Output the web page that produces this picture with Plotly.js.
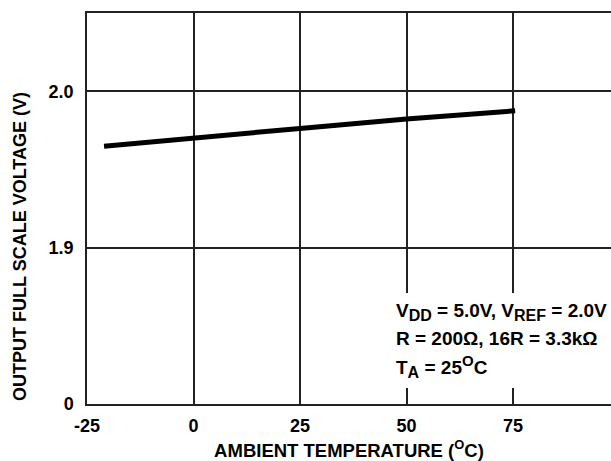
<!DOCTYPE html>
<html>
<head>
<meta charset="utf-8">
<script src="https://cdn.plot.ly/plotly-3.0.1.min.js"></script>
<style>html,body{margin:0;padding:0;background:#fff;}#chart{width:611px;height:461px;}</style>
</head>
<body>
<div id="chart"></div>
<script>
// Data
const temps = [-21, 0, 25, 50, 75.5];
const volts = [1.9648, 1.9702, 1.9762, 1.9822, 1.9875];
const xTickVals = [-25, 0, 25, 50, 75];
const xTickText = ['-25', '0', '25', '50', '75'];
const yTickVals = [1.8, 1.9, 2.0];
const yTickText = ['0', '1.9', '2.0'];
const noteLines = [
  'V<sub><span style="font-size:16px">DD</span></sub> = 5.0V, V<sub><span style="font-size:16px">REF</span></sub> = 2.0V',
  'R = 200\u03A9, 16R = 3.3k\u03A9',
  'T<sub><span style="font-size:16px">A</span></sub> = 25<sup><span style="font-size:15px">O</span></sup>C'
];
const xTitle = 'AMBIENT TEMPERATURE (<sup>O</sup>C)';
const yTitle = 'OUTPUT FULL SCALE VOLTAGE (V)';

const FONT = 'Liberation Sans, Arial, Helvetica, sans-serif';

const trace = {
  x: temps, y: volts, type: 'scatter', mode: 'lines',
  line: {color: '#000', width: 5}, hoverinfo: 'skip', showlegend: false
};

const noteY = [0.236, 0.167, 0.097];
const annotations = noteLines.map((t, i) => ({
  text: t, xref: 'paper', yref: 'paper', x: 0.585, y: noteY[i],
  xanchor: 'left', yanchor: 'middle', showarrow: false,
  font: {family: FONT, size: 19, color: '#000', weight: 700}
}));
annotations.push({
  text: yTitle, xref: 'paper', yref: 'paper', x: -0.128, y: 0.404,
  xanchor: 'center', yanchor: 'middle', textangle: -90, showarrow: false,
  font: {family: FONT, size: 18, color: '#000', weight: 700}
});

const layout = {
  width: 611, height: 461,
  margin: {l: 87, r: 0, t: 13, b: 57},
  paper_bgcolor: '#fff', plot_bgcolor: '#fff',
  showlegend: false,
  font: {family: FONT, color: '#000', weight: 700},
  xaxis: {
    range: [-25, 98], tickvals: xTickVals, ticktext: xTickText,
    showgrid: true, gridcolor: '#222', gridwidth: 1.5,
    showline: true, linecolor: '#222', linewidth: 1.5, mirror: true,
    zeroline: false, ticks: '', ticklabelstandoff: 5,
    tickfont: {family: FONT, size: 18, color: '#000', weight: 700},
    title: {text: xTitle, standoff: 12, font: {family: FONT, size: 18.5, color: '#000', weight: 700}},
    fixedrange: true
  },
  yaxis: {
    range: [1.8, 2.05], tickvals: yTickVals, ticktext: yTickText,
    showgrid: true, gridcolor: '#222', gridwidth: 1.5,
    showline: true, linecolor: '#222', linewidth: 1.5,
    zeroline: false, ticks: '', ticklabelstandoff: 8,
    tickfont: {family: FONT, size: 18, color: '#000', weight: 700},
    fixedrange: true
  },
  shapes: [{
    type: 'rect', xref: 'paper', yref: 'paper', layer: 'above',
    x0: 0.575, x1: 1.0, y0: 0.041, y1: 0.284,
    fillcolor: '#fff', line: {width: 0}
  }],
  annotations: annotations
};

Plotly.newPlot('chart', [trace], layout, {displayModeBar: false});
</script>
</body>
</html>
